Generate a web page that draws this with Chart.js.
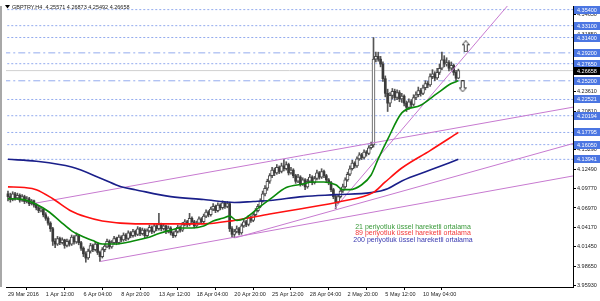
<!DOCTYPE html>
<html>
<head>
<meta charset="utf-8">
<script src="https://cdn.jsdelivr.net/npm/chart.js@4.4.1/dist/chart.umd.min.js"></script>
<style>
  html, body { margin: 0; padding: 0; background: #fff; }
  #chart { display: block; }
</style>
</head>
<body>
<canvas id="chart" width="600" height="301"></canvas>
<script>
// GBPTRY H4 candles, one entry per bar (bar 0 = 29 Mar 2016)
const opens = [4.090,4.086,4.082,4.090,4.084,4.088,4.081,4.086,4.079,4.083,4.076,4.080,4.074,4.070,4.066,4.068,4.060,4.055,4.048,4.040,
  4.022,4.018,4.026,4.020,4.024,4.016,4.022,4.018,4.028,4.021,4.030,4.020,4.012,4.004,3.998,4.008,4.016,4.010,4.018,4.006,
  4.000,4.010,4.015,4.022,4.014,4.020,4.026,4.020,4.028,4.024,4.031,4.026,4.034,4.030,4.036,4.032,4.040,4.033,4.038,4.030,
  4.037,4.042,4.036,4.044,4.040,4.046,4.040,4.044,4.036,4.041,4.034,4.030,4.036,4.042,4.038,4.046,4.050,4.046,4.055,4.050,
  4.044,4.048,4.054,4.050,4.058,4.064,4.060,4.068,4.072,4.066,4.074,4.070,4.077,4.072,4.076,4.040,4.032,4.036,4.040,4.034,
  4.044,4.050,4.046,4.056,4.052,4.060,4.066,4.072,4.080,4.090,4.098,4.108,4.116,4.124,4.120,4.128,4.122,4.130,4.126,4.132,
  4.120,4.124,4.116,4.108,4.114,4.104,4.110,4.100,4.108,4.114,4.106,4.112,4.120,4.114,4.122,4.116,4.110,4.106,4.096,4.086,
  4.078,4.086,4.094,4.100,4.110,4.118,4.126,4.134,4.130,4.140,4.146,4.142,4.150,4.148,4.156,4.160,4.283,4.287,4.283,4.276,
  4.255,4.234,4.220,4.231,4.237,4.228,4.235,4.226,4.230,4.220,4.214,4.222,4.218,4.228,4.232,4.238,4.234,4.242,4.248,4.246,
  4.258,4.262,4.256,4.264,4.270,4.282,4.276,4.278,4.270,4.274,4.264,4.25571];
const highs = [4.094,4.091,4.093,4.092,4.091,4.090,4.089,4.088,4.086,4.085,4.082,4.081,4.076,4.073,4.071,4.069,4.063,4.057,4.050,4.042,
  4.026,4.029,4.028,4.027,4.025,4.025,4.024,4.031,4.030,4.034,4.032,4.022,4.014,4.007,4.011,4.019,4.018,4.021,4.020,4.008,
  4.013,4.018,4.025,4.024,4.023,4.029,4.028,4.031,4.030,4.034,4.033,4.037,4.036,4.039,4.038,4.043,4.042,4.041,4.040,4.040,
  4.045,4.044,4.047,4.046,4.062,4.048,4.047,4.045,4.044,4.043,4.036,4.039,4.045,4.044,4.049,4.053,4.052,4.062,4.057,4.052,
  4.051,4.057,4.056,4.061,4.067,4.066,4.071,4.076,4.074,4.077,4.076,4.080,4.079,4.079,4.078,4.043,4.039,4.044,4.042,4.047,
  4.053,4.052,4.059,4.058,4.063,4.069,4.075,4.083,4.094,4.102,4.111,4.119,4.128,4.127,4.132,4.130,4.134,4.139,4.136,4.134,
  4.128,4.126,4.118,4.118,4.116,4.113,4.112,4.111,4.118,4.116,4.115,4.124,4.122,4.126,4.124,4.118,4.112,4.108,4.098,4.088,
  4.089,4.097,4.104,4.113,4.121,4.130,4.138,4.136,4.143,4.149,4.148,4.153,4.152,4.159,4.164,4.314,4.293,4.293,4.287,4.279,
  4.259,4.240,4.235,4.241,4.240,4.239,4.238,4.234,4.232,4.223,4.226,4.225,4.232,4.236,4.243,4.241,4.246,4.252,4.251,4.262,
  4.268,4.265,4.270,4.276,4.293,4.288,4.285,4.281,4.279,4.276,4.267,4.26873];
const lows = [4.080,4.078,4.080,4.081,4.082,4.078,4.079,4.076,4.077,4.073,4.074,4.071,4.067,4.063,4.064,4.057,4.052,4.045,4.036,4.016,
  4.013,4.016,4.017,4.018,4.012,4.014,4.015,4.016,4.018,4.019,4.017,4.009,4.000,3.992,3.996,4.005,4.007,4.008,4.003,3.993,
  3.998,4.007,4.013,4.011,4.012,4.018,4.017,4.018,4.021,4.022,4.023,4.024,4.027,4.028,4.029,4.030,4.030,4.031,4.027,4.028,
  4.035,4.033,4.034,4.037,4.038,4.037,4.038,4.033,4.034,4.031,4.027,4.028,4.034,4.035,4.036,4.044,4.043,4.044,4.047,4.041,
  4.042,4.046,4.047,4.048,4.056,4.057,4.058,4.066,4.063,4.064,4.067,4.068,4.069,4.070,4.036,4.028,4.027,4.034,4.031,4.032,
  4.042,4.043,4.044,4.049,4.050,4.058,4.064,4.070,4.078,4.087,4.095,4.105,4.113,4.116,4.118,4.119,4.120,4.123,4.124,4.117,
  4.118,4.113,4.105,4.106,4.101,4.102,4.096,4.098,4.106,4.103,4.104,4.110,4.111,4.112,4.113,4.107,4.103,4.093,4.083,4.069,
  4.076,4.084,4.092,4.098,4.108,4.116,4.124,4.127,4.128,4.138,4.139,4.140,4.144,4.146,4.154,4.157,4.279,4.280,4.272,4.251,
  4.229,4.208,4.215,4.226,4.224,4.225,4.222,4.221,4.216,4.208,4.211,4.214,4.216,4.225,4.229,4.230,4.232,4.239,4.242,4.244,
  4.255,4.252,4.254,4.261,4.268,4.272,4.273,4.266,4.267,4.260,4.252,4.25492];
const closes = [4.086,4.082,4.090,4.084,4.088,4.081,4.086,4.079,4.083,4.076,4.080,4.074,4.070,4.066,4.068,4.060,4.055,4.048,4.040,4.022,
  4.018,4.026,4.020,4.024,4.016,4.022,4.018,4.028,4.021,4.030,4.020,4.012,4.004,3.998,4.008,4.016,4.010,4.018,4.006,4.000,
  4.010,4.015,4.022,4.014,4.020,4.026,4.020,4.028,4.024,4.031,4.026,4.034,4.030,4.036,4.032,4.040,4.033,4.038,4.030,4.037,
  4.042,4.036,4.044,4.040,4.046,4.040,4.044,4.036,4.041,4.034,4.030,4.036,4.042,4.038,4.046,4.050,4.046,4.055,4.050,4.044,
  4.048,4.054,4.050,4.058,4.064,4.060,4.068,4.072,4.066,4.074,4.070,4.077,4.072,4.076,4.040,4.032,4.036,4.040,4.034,4.044,
  4.050,4.046,4.056,4.052,4.060,4.066,4.072,4.080,4.090,4.098,4.108,4.116,4.124,4.120,4.128,4.122,4.130,4.126,4.132,4.120,
  4.124,4.116,4.108,4.114,4.104,4.110,4.100,4.108,4.114,4.106,4.112,4.120,4.114,4.122,4.116,4.110,4.106,4.096,4.086,4.078,
  4.086,4.094,4.100,4.110,4.118,4.126,4.134,4.130,4.140,4.146,4.142,4.150,4.148,4.156,4.160,4.283,4.287,4.283,4.276,4.255,
  4.234,4.220,4.231,4.237,4.228,4.235,4.226,4.230,4.220,4.214,4.222,4.218,4.228,4.232,4.238,4.234,4.242,4.248,4.246,4.258,
  4.262,4.256,4.264,4.270,4.282,4.276,4.278,4.270,4.274,4.264,4.25571,4.26658];

// Exponential moving averages (bar index, price)
const ema21Bars = [0,6,12,17,22,27,31,36,40,45,54,59,64,69,73,78,83,87,91,94,97,100,107,111,118,125,129,134,139,142,145,150,154,157,161,167,175,182,188,191];
const ema21Vals = [4.083,4.082,4.075,4.065,4.051,4.037,4.030,4.023,4.018,4.018,4.023,4.027,4.033,4.038,4.041,4.041,4.044,4.051,4.055,4.058,4.052,4.054,4.072,4.082,4.099,4.104,4.107,4.107,4.103,4.096,4.096,4.103,4.117,4.140,4.168,4.206,4.217,4.234,4.248,4.252];
const ema89Bars = [0,7,12,19,27,33,40,54,69,83,96,111,125,141,155,160,167,179,191];
const ema89Vals = [4.100,4.099,4.096,4.083,4.065,4.057,4.051,4.047,4.047,4.047,4.052,4.061,4.069,4.079,4.092,4.107,4.127,4.152,4.178];
const ema200Bars = [0,12,27,40,48,54,69,83,96,104,111,125,139,154,161,167,179,191];
const ema200Vals = [4.1395,4.1367,4.1283,4.1114,4.1001,4.0959,4.0860,4.0818,4.0776,4.0790,4.0804,4.0860,4.0888,4.0917,4.0973,4.1085,4.1240,4.1394];

// Trend lines: [bar1, price1, bar2, price2]
const trendLines = [
  [138.5, 4.069, 215, 4.372],
  [10.9, 4.0762, 239.6, 4.2142],
  [39.2, 3.9931, 239.6, 4.1156],
  [96.4, 4.0269, 239.6, 4.1621]
];

// Horizontal levels with their blue price tags
const levelPrices = [4.35400, 4.33100, 4.31400, 4.29200, 4.27650, 4.25200, 4.22521, 4.20194, 4.17795, 4.16050, 4.13941];
const levelDash = ['dot','dot','dot','dashdot','dot','dashdot','dot','dot','dot','dot','dot'];
const currentPrice = 4.26658;

// Arrow objects [bar, price]
const upArrow = [194.1, 4.3014];
const downArrow = [192.8, 4.2440];

const xTickIdx = [0,16,32,48,64,80,96,112,128,144,160,176];
const xTickLabels = ['29 Mar 2016','1 Apr 12:00','6 Apr 04:00','8 Apr 20:00','13 Apr 12:00','18 Apr 04:00','20 Apr 20:00','25 Apr 12:00','28 Apr 04:00','2 May 20:00','5 May 12:00','10 May 04:00'];
const yTickValues = [3.9593,3.9865,4.0145,4.0417,4.0697,4.0977,4.1249,4.1529,4.1809,4.2081,4.2361,4.2633,4.2913,4.3185,4.3465];

const symbolName = 'GBPTRY,H4';
const legendTexts = ['21 periyotluk üssel hareketli ortalama', '89 periyotluk üssel hareketli ortalama', '200 periyotluk üssel hareketli ortalama'];
const legendColors = ['#3a9a3a', '#f23a3a', '#3a3ab0'];

const FONT = '"Liberation Sans", Arial, sans-serif';

function makeArrow(up) {
  const c = document.createElement('canvas');
  c.width = 8; c.height = 12;
  const g = c.getContext('2d');
  g.save();
  if (!up) { g.translate(0, 12); g.scale(1, -1); }
  g.beginPath();
  g.moveTo(4, 0.5);
  g.lineTo(7.5, 4.5);
  g.lineTo(5.5, 4.5);
  g.lineTo(5.5, 11.5);
  g.lineTo(2.5, 11.5);
  g.lineTo(2.5, 4.5);
  g.lineTo(0.5, 4.5);
  g.closePath();
  g.fillStyle = '#fff';
  g.fill();
  g.strokeStyle = '#333';
  g.lineWidth = 1;
  g.stroke();
  g.restore();
  return c;
}

const wickData = opens.map((o, i) => ({ x: i, y: [lows[i], highs[i]] }));
const bullData = [], bearData = [];
opens.forEach((o, i) => {
  const d = { x: i, y: [o, closes[i]] };
  if (closes[i] >= o) bullData.push(d); else bearData.push(d);
});

const lineDs = (bars, vals, color, order) => ({
  type: 'line',
  data: bars.map((b, i) => ({ x: b, y: vals[i] })),
  borderColor: color,
  borderWidth: 1.6,
  pointRadius: 0,
  cubicInterpolationMode: 'monotone',
  order: order
});

const datasets = [
  lineDs(ema21Bars, ema21Vals, '#0a8a0a', 1),
  lineDs(ema89Bars, ema89Vals, '#ff1010', 1),
  lineDs(ema200Bars, ema200Vals, '#1a1f8a', 1),
  { type: 'line', data: [{ x: upArrow[0], y: upArrow[1] }], showLine: false, pointStyle: makeArrow(true), pointRadius: 5, order: 0 },
  { type: 'line', data: [{ x: downArrow[0], y: downArrow[1] }], showLine: false, pointStyle: makeArrow(false), pointRadius: 5, order: 0 }
];

trendLines.forEach(t => {
  datasets.push({
    type: 'line',
    data: [{ x: t[0], y: t[1] }, { x: t[2], y: t[3] }],
    borderColor: '#c77ad0',
    borderWidth: 1,
    pointRadius: 0,
    order: 2
  });
});

datasets.push({
  type: 'bar', data: bullData, grouped: false, barThickness: 3, minBarLength: 1,
  backgroundColor: '#ffffff', borderColor: '#4a4a4a', borderWidth: 1, borderSkipped: false, order: 3
});
datasets.push({
  type: 'bar', data: bearData, grouped: false, barThickness: 2, minBarLength: 1,
  backgroundColor: '#3a3a3a', borderWidth: 0, order: 3
});
datasets.push({
  type: 'bar', data: wickData, grouped: false, barThickness: 1,
  backgroundColor: '#555', borderWidth: 0, order: 4
});

levelPrices.forEach((p, i) => {
  datasets.push({
    type: 'line',
    data: [{ x: -2, y: p }, { x: 242, y: p }],
    borderColor: '#93abee',
    borderWidth: 1,
    borderDash: levelDash[i] === 'dot' ? [2, 2] : [7, 3, 2, 3],
    pointRadius: 0,
    order: 5
  });
});
datasets.push({
  type: 'line',
  data: [{ x: -2, y: currentPrice }, { x: 242, y: currentPrice }],
  borderColor: '#d0d0d0',
  borderWidth: 1,
  pointRadius: 0,
  order: 5
});

const overlay = {
  id: 'overlay',
  afterDraw(chart) {
    const ctx = chart.ctx;
    const yScale = chart.scales.y;
    const area = chart.chartArea;
    ctx.save();
    // left frame
    ctx.fillStyle = '#a8a8a8';
    ctx.fillRect(0, area.top, 2, area.bottom - area.top);

    // blue price tags
    ctx.font = '5.5px ' + FONT;
    ctx.textBaseline = 'middle';
    ctx.textAlign = 'left';
    levelPrices.forEach(p => {
      const py = Math.round(yScale.getPixelForValue(p));
      ctx.fillStyle = '#4b76e2';
      ctx.fillRect(area.right + 1, py - 4, 26, 8);
      ctx.fillStyle = '#fff';
      ctx.fillText(p.toFixed(5), area.right + 4, py + 0.5);
    });
    const cy = Math.round(yScale.getPixelForValue(currentPrice));
    ctx.fillStyle = '#000';
    ctx.fillRect(area.right + 1, cy - 4, 26, 8);
    ctx.fillStyle = '#fff';
    ctx.fillText(currentPrice.toFixed(5), area.right + 4, cy + 0.5);

    // title
    const last = opens.length - 1;
    ctx.fillStyle = '#000';
    ctx.beginPath();
    ctx.moveTo(5, 5); ctx.lineTo(10, 5); ctx.lineTo(7.5, 8.5); ctx.closePath();
    ctx.fill();
    ctx.fillStyle = '#222';
    ctx.fillText(symbolName + '  ' + [opens[last], highs[last], lows[last], closes[last]].map(v => v.toFixed(5)).join(' '), 12, 7);

    // moving average captions
    ctx.font = '7px ' + FONT;
    ctx.textAlign = 'center';
    legendTexts.forEach((t, i) => {
      ctx.fillStyle = legendColors[i];
      ctx.fillText(t, 413, 227 + i * 6.5);
    });
    ctx.restore();
  }
};

new Chart(document.getElementById('chart'), {
  type: 'bar',
  data: { datasets: datasets },
  options: {
    responsive: false,
    animation: false,
    events: [],
    layout: { padding: { left: 2, top: 1, right: 0, bottom: 0 } },
    plugins: { legend: { display: false }, tooltip: { enabled: false } },
    scales: {
      x: {
        type: 'linear',
        offset: false,
        min: -0.84,
        max: 239.6,
        afterBuildTicks: s => { s.ticks = xTickIdx.map(v => ({ value: v })); },
        afterFit: s => { s.height = 14; },
        ticks: {
          autoSkip: false,
          maxRotation: 0,
          align: 'start',
          padding: 1,
          color: '#222',
          font: { family: FONT, size: 5.5 },
          callback: v => xTickLabels[xTickIdx.indexOf(v)]
        },
        grid: { drawOnChartArea: false, tickLength: 3, color: '#000' },
        border: { color: '#000' }
      },
      y: {
        type: 'linear',
        position: 'right',
        min: 3.95648,
        max: 4.35917,
        afterBuildTicks: s => { s.ticks = yTickValues.map(v => ({ value: v })); },
        afterFit: s => { s.width = 27; },
        ticks: {
          padding: 1,
          color: '#222',
          font: { family: FONT, size: 5.5 },
          callback: v => v.toFixed(5)
        },
        grid: { drawOnChartArea: false, tickLength: 3, color: '#000' },
        border: { color: '#000' }
      }
    }
  },
  plugins: [overlay]
});
</script>
</body>
</html>
